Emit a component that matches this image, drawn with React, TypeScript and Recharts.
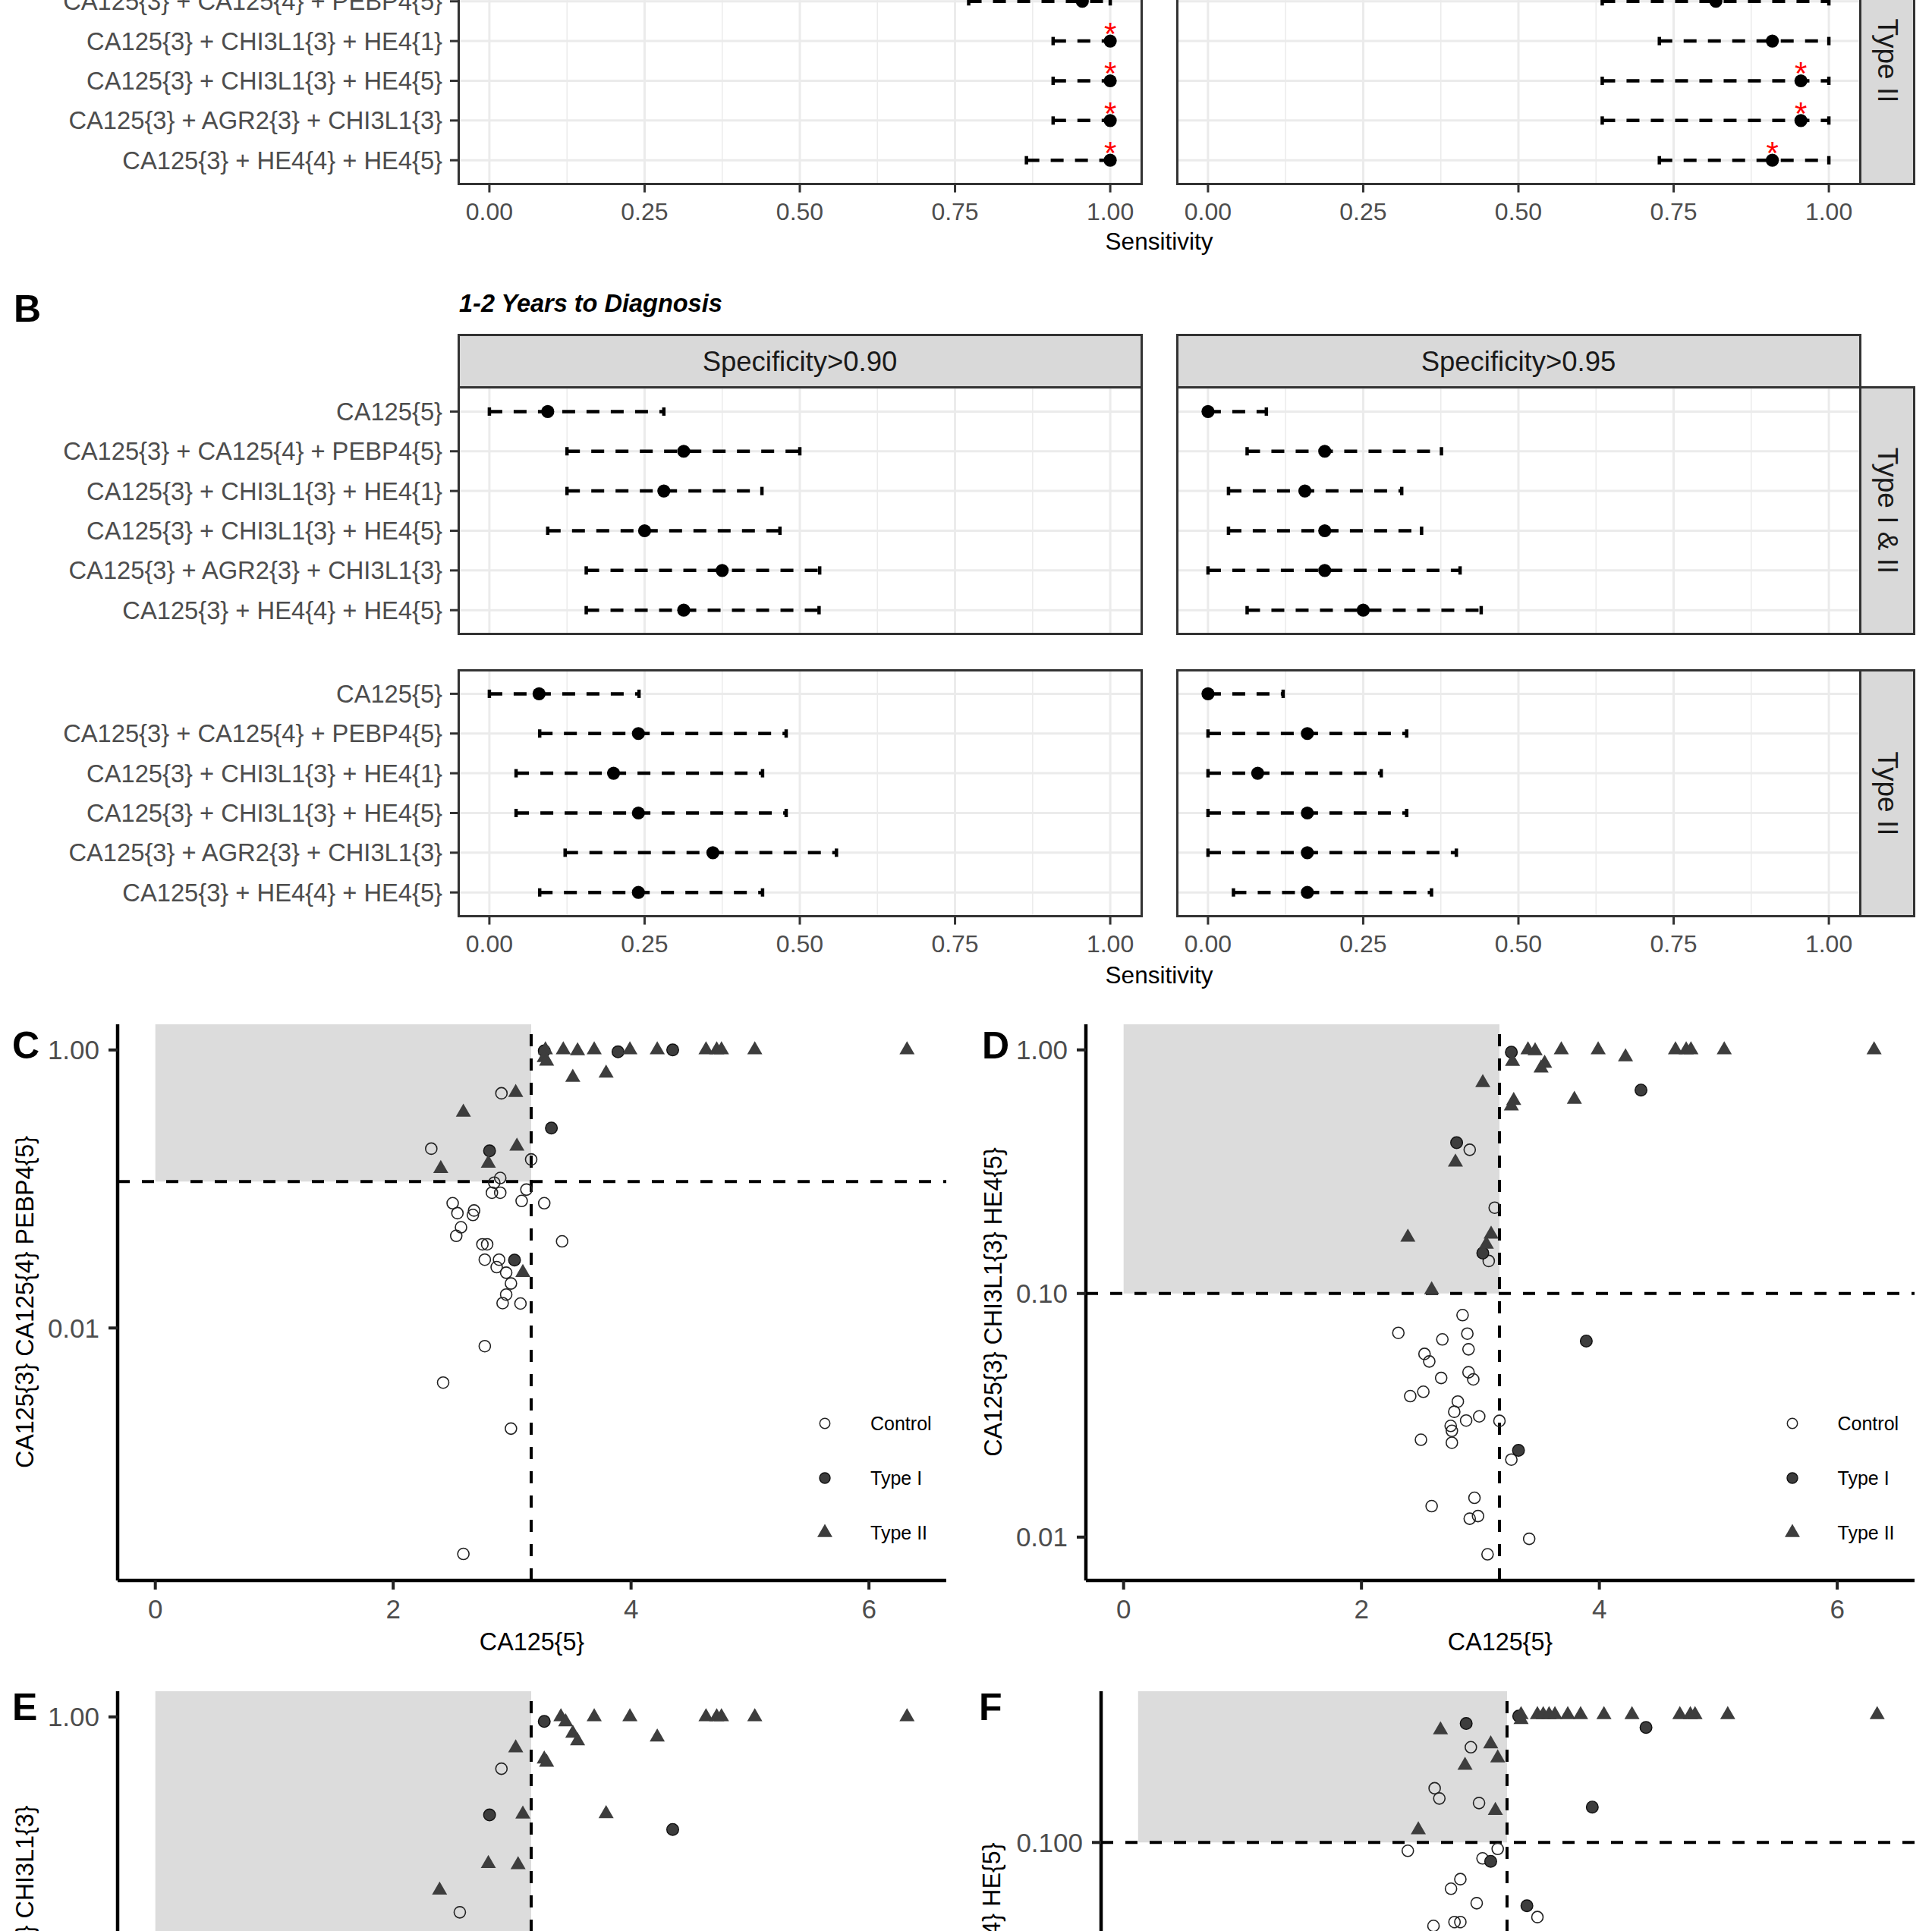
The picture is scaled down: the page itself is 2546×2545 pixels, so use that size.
import React from 'react';
import {
  ScatterChart,
  Scatter,
  XAxis,
  YAxis,
  CartesianGrid,
  ReferenceLine,
  ReferenceArea,
  ErrorBar,
} from 'recharts';

// ---------- forest plots (panels A, B) ----------
const combos = [
  'CA125{5}',
  'CA125{3} + CA125{4} + PEBP4{5}',
  'CA125{3} + CHI3L1{3} + HE4{1}',
  'CA125{3} + CHI3L1{3} + HE4{5}',
  'CA125{3} + AGR2{3} + CHI3L1{3}',
  'CA125{3} + HE4{4} + HE4{5}',
];
const sensTicks = [0, 0.25, 0.5, 0.75, 1];
const sensMinor = [0.125, 0.375, 0.625, 0.875];

// A, Type II (first row sits above the visible area)
const aT2Sp90Est = [null, 0.955, 1, 1, 1, 1];
const aT2Sp90Lo = [null, 0.772, 0.908, 0.908, 0.908, 0.865];
const aT2Sp90Hi = [null, 1, 1, 1, 1, 1];
const aT2Sp90Star = [0, 0, 1, 1, 1, 1];
const aT2Sp95Est = [null, 0.818, 0.909, 0.955, 0.955, 0.909];
const aT2Sp95Lo = [null, 0.635, 0.727, 0.635, 0.635, 0.727];
const aT2Sp95Hi = [null, 1, 1, 1, 1, 1];
const aT2Sp95Star = [0, 0, 0, 1, 1, 1];

// B, 1-2 years to diagnosis
const bAllSp90Est = [0.094, 0.313, 0.281, 0.25, 0.375, 0.313];
const bAllSp90Lo = [0, 0.125, 0.125, 0.094, 0.156, 0.156];
const bAllSp90Hi = [0.281, 0.5, 0.439, 0.468, 0.532, 0.531];
const bAllSp95Est = [0, 0.188, 0.156, 0.188, 0.188, 0.25];
const bAllSp95Lo = [0, 0.063, 0.033, 0.033, 0, 0.063];
const bAllSp95Hi = [0.094, 0.376, 0.312, 0.344, 0.406, 0.44];
const bT2Sp90Est = [0.08, 0.24, 0.2, 0.24, 0.36, 0.24];
const bT2Sp90Lo = [0, 0.081, 0.043, 0.043, 0.122, 0.081];
const bT2Sp90Hi = [0.241, 0.478, 0.44, 0.478, 0.559, 0.44];
const bT2Sp95Est = [0, 0.16, 0.08, 0.16, 0.16, 0.16];
const bT2Sp95Lo = [0, 0, 0, 0, 0, 0.041];
const bT2Sp95Hi = [0.121, 0.32, 0.279, 0.32, 0.4, 0.36];
const noStars = [0, 0, 0, 0, 0, 0];

// ---------- scatter plots (panels C-F) ----------
const X_THR = 3.16;
const caTicks = [0, 2, 4, 6];

const cControl = [
  [2.91, 0.488], [2.32, 0.195], [3.16, 0.163], [2.9, 0.12], [2.85, 0.111], [3.12, 0.099],
  [2.83, 0.094], [2.9, 0.094], [3.08, 0.082], [3.27, 0.079], [2.5, 0.079], [2.54, 0.067],
  [2.68, 0.07], [2.67, 0.065], [2.57, 0.053], [2.53, 0.046], [3.42, 0.042], [2.75, 0.04],
  [2.79, 0.04], [2.77, 0.031], [2.89, 0.031], [2.87, 0.0274], [2.95, 0.025], [2.99, 0.0209],
  [2.95, 0.0174], [2.92, 0.0151], [3.07, 0.015], [2.77, 0.0074], [2.42, 0.00405],
  [2.99, 0.00189], [2.59, 0.000237],
];
const cType1 = [[3.27, 0.985], [3.89, 0.97], [4.35, 1.0], [3.33, 0.274], [2.81, 0.188], [3.02, 0.0308]];
const cType2 = [
  [3.28, 1.0], [3.43, 1.0], [3.55, 0.985], [3.69, 1.0], [3.99, 1.0], [4.22, 1.0], [4.63, 1.0],
  [4.72, 1.0], [4.76, 1.0], [5.04, 1.0], [6.32, 1.0], [3.27, 0.88], [3.29, 0.83], [3.51, 0.634],
  [3.79, 0.68], [3.03, 0.493], [2.59, 0.356], [3.04, 0.203], [2.4, 0.14], [2.8, 0.153], [3.09, 0.025],
];

const dControl = [
  [2.91, 0.389], [3.12, 0.225], [3.07, 0.136], [2.85, 0.0815], [2.31, 0.0689], [2.89, 0.0684],
  [2.68, 0.0648], [2.9, 0.059], [2.53, 0.0565], [2.57, 0.0526], [2.9, 0.0475], [2.67, 0.045],
  [2.94, 0.0444], [2.52, 0.0395], [2.41, 0.0379], [2.81, 0.036], [2.78, 0.0327], [2.99, 0.0313],
  [3.16, 0.03], [2.88, 0.0301], [2.75, 0.0286], [2.76, 0.0273], [2.5, 0.0251], [2.76, 0.0244],
  [3.26, 0.0208], [2.95, 0.0145], [2.59, 0.0134], [2.98, 0.0122], [2.91, 0.0119], [3.41, 0.00984],
  [3.06, 0.0085],
];
const dType1 = [[3.26, 0.978], [4.35, 0.684], [2.8, 0.416], [3.02, 0.1465], [3.89, 0.0638], [3.32, 0.0227]];
const dType2 = [
  [3.4, 1.0], [3.46, 0.99], [3.68, 1.0], [3.99, 1.0], [4.22, 0.936], [4.64, 1.0], [4.73, 1.0],
  [4.77, 1.0], [5.05, 1.0], [6.31, 1.0], [3.27, 0.896], [3.54, 0.88], [3.51, 0.842], [3.02, 0.733],
  [3.28, 0.619], [3.26, 0.588], [3.79, 0.626], [2.79, 0.346], [2.39, 0.17], [3.09, 0.175],
  [3.05, 0.159], [2.59, 0.1035],
];

const eControl = [[2.91, 0.424], [2.56, 0.0393]];
const eType1 = [[3.27, 0.927], [2.81, 0.197], [4.35, 0.155]];
const eType2 = [
  [3.41, 1.0], [3.69, 1.0], [3.99, 1.0], [4.63, 1.0], [4.72, 1.0], [4.76, 1.0], [5.04, 1.0],
  [6.32, 1.0], [3.45, 0.92], [3.51, 0.762], [3.55, 0.672], [4.22, 0.716], [3.03, 0.597],
  [3.27, 0.497], [3.29, 0.471], [3.09, 0.1995], [3.79, 0.201], [2.8, 0.088], [3.05, 0.0863],
  [2.39, 0.0567],
];

const fControl = [
  [2.85, 0.262], [2.54, 0.173], [2.58, 0.156], [2.92, 0.149], [2.31, 0.0919], [3.08, 0.0937],
  [2.95, 0.0851], [2.76, 0.069], [2.68, 0.0626], [2.9, 0.0541], [3.42, 0.047], [2.53, 0.043],
  [2.71, 0.0447], [2.76, 0.0447],
];
const fType1 = [[3.26, 0.359], [2.81, 0.333], [4.35, 0.32], [3.89, 0.143], [3.02, 0.0826], [3.33, 0.0527]];
const fType2 = [
  [3.28, 0.364], [3.42, 0.364], [3.47, 0.364], [3.52, 0.364], [3.57, 0.364], [3.68, 0.364],
  [3.79, 0.364], [3.99, 0.364], [4.23, 0.364], [4.64, 0.364], [4.73, 0.364], [4.77, 0.364],
  [5.05, 0.364], [6.33, 0.364], [3.28, 0.346], [2.59, 0.312], [3.02, 0.271], [3.08, 0.235],
  [2.8, 0.218], [3.06, 0.138], [2.4, 0.1136],
];

// ---------- layout ----------
const PANEL_W = 900;
const PANEL_H = 324.6;
const LEFT_X = 604;
const RIGHT_X = 1551;
const CAT_PAD = 31.4;
const A_TOP = -82.4;
const B1_TOP = 510.6;
const B2_TOP = 883.2;
const FONT = '"Liberation Sans", Arial, Helvetica, sans-serif';

const buildRows = (est: any[], lo: any[], hi: any[], star: number[]) =>
  combos.map((label, i) => ({
    label,
    est: est[i],
    err: est[i] == null ? undefined : [est[i] - lo[i], hi[i] - est[i]],
    star: !!star[i],
  }));

const toPts = (arr: number[][]) => arr.map(([x, y]) => ({ x, y }));

const forestDot = (p: any) =>
  p.payload.est == null || p.cx == null ? <g /> : <circle cx={p.cx} cy={p.cy} r={8.6} fill="#000" />;
const forestStar = (p: any) =>
  p.payload.star && p.cx != null ? (
    <text x={p.cx} y={p.cy + 5} textAnchor="middle" fontSize={42} fill="#FF0000">
      *
    </text>
  ) : (
    <g />
  );

function Facet({ rows, x, y, showY, showX }: any) {
  const yw = showY ? x : 0;
  const xh = showX ? 60 : 0;
  const w = yw + PANEL_W;
  const h = PANEL_H + xh;
  return (
    <>
      <div style={{ position: 'absolute', left: x - yw, top: y, width: w, height: h }}>
        <ScatterChart width={w} height={h} margin={{ top: 0, right: 0, bottom: 0, left: 0 }}>
          <CartesianGrid stroke="#EBEBEB" strokeWidth={3} />
          {sensMinor.map((v) => (
            <ReferenceLine key={v} x={v} stroke="#EBEBEB" strokeWidth={1.5} zIndex={-90} />
          ))}
          <XAxis
            type="number"
            dataKey="est"
            domain={[-0.05, 1.05]}
            allowDataOverflow
            ticks={sensTicks}
            hide={!showX}
            height={xh}
            tickFormatter={(v: number) => v.toFixed(2)}
            tick={{ fill: '#4D4D4D', fontSize: 32 }}
            tickLine={{ stroke: '#333333', strokeWidth: 3 }}
            tickSize={11}
            tickMargin={14}
            axisLine={false}
          />
          <YAxis
            type="category"
            dataKey="label"
            scale="point"
            reversed
            allowDuplicatedCategory={false}
            padding={{ top: CAT_PAD, bottom: CAT_PAD }}
            hide={!showY}
            width={yw}
            tick={{ fill: '#4D4D4D', fontSize: 32.7 }}
            tickLine={{ stroke: '#333333', strokeWidth: 3 }}
            tickSize={11}
            tickMargin={10}
            axisLine={false}
            interval={0}
          />
          <Scatter data={rows} shape={forestDot} isAnimationActive={false}>
            <ErrorBar
              dataKey="err"
              direction="x"
              width={5.5}
              stroke="#000"
              strokeWidth={4.5}
              strokeDasharray="17 15"
              isAnimationActive={false}
            />
          </Scatter>
          <Scatter data={rows} shape={forestStar} isAnimationActive={false} />
        </ScatterChart>
      </div>
      <div
        style={{
          position: 'absolute',
          left: x - 1.5,
          top: y - 1.5,
          width: PANEL_W + 3,
          height: PANEL_H + 3,
          border: '3px solid #333333',
          boxSizing: 'border-box',
        }}
      />
    </>
  );
}

function Label({ x, y, size, text, align = 'center', rotate = 0, color = '#000', weight = 400, italic = false }: any) {
  const tx = align === 'center' ? '-50%' : align === 'right' ? '-100%' : '0%';
  return (
    <div
      style={{
        position: 'absolute',
        left: x,
        top: y,
        transform: `translate(${tx}, -50%) rotate(${rotate}deg)`,
        fontSize: size,
        lineHeight: 1,
        whiteSpace: 'nowrap',
        color,
        fontWeight: weight,
        fontStyle: italic ? 'italic' : 'normal',
      }}
    >
      {text}
    </div>
  );
}

function ColStrip({ x, text }: any) {
  return (
    <>
      <div
        style={{
          position: 'absolute',
          left: x - 1.5,
          top: 440,
          width: PANEL_W + 3,
          height: B1_TOP - 440 + 1.5,
          background: '#D9D9D9',
          border: '3px solid #333333',
          boxSizing: 'border-box',
        }}
      />
      <Label x={x + PANEL_W / 2} y={477} size={36.5} text={text} color="#1A1A1A" />
    </>
  );
}

function RowStrip({ y, text }: any) {
  return (
    <>
      <div
        style={{
          position: 'absolute',
          left: RIGHT_X + PANEL_W - 1.5,
          top: y - 1.5,
          width: 74,
          height: PANEL_H + 3,
          background: '#D9D9D9',
          border: '3px solid #333333',
          boxSizing: 'border-box',
        }}
      />
      <Label x={2487} y={y + PANEL_H / 2} size={37} text={text} color="#1A1A1A" rotate={90} />
    </>
  );
}

const triPath = (cx: number, cy: number, r: number) =>
  `M${cx},${cy - r}L${cx + r * 0.866},${cy + r / 2}L${cx - r * 0.866},${cy + r / 2}Z`;

const openCircle = (p: any) => <circle cx={p.cx} cy={p.cy} r={7.5} fill="none" stroke="#222" strokeWidth={1.6} />;
const fillCircle = (p: any) => <circle cx={p.cx} cy={p.cy} r={7.8} fill="#3D3D3D" stroke="#111" strokeWidth={1.4} />;
const triangle = (p: any) => <path d={triPath(p.cx, p.cy, 11.5)} fill="#3D3D3D" />;

function ScatterPanel({ x, y, w, yDomain, yTicks, yDigits, yThr, control, type1, type2 }: any) {
  const YW = 150;
  const MT = 20;
  const MR = 30;
  const XH = 70;
  const H = 733;
  const cw = YW + w + MR;
  const ch = MT + H + XH;
  return (
    <div style={{ position: 'absolute', left: x - YW, top: y - MT, width: cw, height: ch }}>
      <ScatterChart width={cw} height={ch} margin={{ top: MT, right: MR, bottom: 0, left: 0 }}>
        <ReferenceArea
          x1={0}
          x2={X_THR}
          y1={yThr}
          y2={yDomain[1]}
          fill="#DCDCDC"
          fillOpacity={1}
          stroke="none"
          zIndex={-50}
        />
        <XAxis
          type="number"
          dataKey="x"
          domain={[-0.317, 6.65]}
          allowDataOverflow
          ticks={caTicks}
          height={XH}
          tick={{ fill: '#4D4D4D', fontSize: 35 }}
          tickLine={{ stroke: '#222', strokeWidth: 4 }}
          tickSize={12}
          tickMargin={13}
          axisLine={{ stroke: '#000', strokeWidth: 4.5 }}
        />
        <YAxis
          type="number"
          dataKey="y"
          scale="log"
          domain={yDomain}
          allowDataOverflow
          ticks={yTicks}
          tickFormatter={(v: number) => v.toFixed(yDigits)}
          width={YW}
          tick={{ fill: '#4D4D4D', fontSize: 35 }}
          tickLine={{ stroke: '#222', strokeWidth: 4 }}
          tickSize={12}
          tickMargin={12}
          axisLine={{ stroke: '#000', strokeWidth: 4.5 }}
        />
        <ReferenceLine x={X_THR} stroke="#000" strokeWidth={4} strokeDasharray="16 16" />
        <ReferenceLine y={yThr} stroke="#000" strokeWidth={4} strokeDasharray="16 16" />
        <Scatter data={toPts(control)} shape={openCircle} isAnimationActive={false} />
        <Scatter data={toPts(type1)} shape={fillCircle} isAnimationActive={false} />
        <Scatter data={toPts(type2)} shape={triangle} isAnimationActive={false} />
      </ScatterChart>
    </div>
  );
}

function GroupLegend({ x, textX }: any) {
  const ys = [1876, 1948, 2020];
  return (
    <>
      <svg style={{ position: 'absolute', left: x - 15, top: 1850, overflow: 'visible' }} width={30} height={200}>
        <circle cx={15} cy={ys[0] - 1850} r={6.7} fill="none" stroke="#222" strokeWidth={1.5} />
        <circle cx={15} cy={ys[1] - 1850} r={7} fill="#3D3D3D" stroke="#111" strokeWidth={1.4} />
        <path d={triPath(15, ys[2] - 1850, 11.5)} fill="#3D3D3D" />
      </svg>
      <Label x={textX} y={ys[0]} size={25} text="Control" align="left" />
      <Label x={textX} y={ys[1]} size={25} text="Type I" align="left" />
      <Label x={textX} y={ys[2]} size={25} text="Type II" align="left" />
    </>
  );
}

export default function App() {
  const logCE = [Math.pow(10, -3.816), Math.pow(10, 0.1845)];
  const logD = [Math.pow(10, -2.178), Math.pow(10, 0.105)];
  const logF = [Math.pow(10, -2.779), Math.pow(10, -0.3357)];
  return (
    <div
      style={{
        position: 'absolute',
        left: 0,
        top: 0,
        width: 2546,
        height: 2545,
        overflow: 'hidden',
        background: '#fff',
        fontFamily: FONT,
      }}
    >
      {/* panel A (bottom row only) */}
      <Facet rows={buildRows(aT2Sp90Est, aT2Sp90Lo, aT2Sp90Hi, aT2Sp90Star)} x={LEFT_X} y={A_TOP} showY showX />
      <Facet rows={buildRows(aT2Sp95Est, aT2Sp95Lo, aT2Sp95Hi, aT2Sp95Star)} x={RIGHT_X} y={A_TOP} showX />
      <RowStrip y={A_TOP} text="Type II" />
      <Label x={1527.5} y={319} size={31.5} text="Sensitivity" />

      {/* panel B */}
      <Label x={18} y={407} size={50} weight={700} text="B" align="left" />
      <Label x={605} y={400} size={32.5} weight={700} italic text="1-2 Years to Diagnosis" align="left" />
      <ColStrip x={LEFT_X} text="Specificity>0.90" />
      <ColStrip x={RIGHT_X} text="Specificity>0.95" />
      <Facet rows={buildRows(bAllSp90Est, bAllSp90Lo, bAllSp90Hi, noStars)} x={LEFT_X} y={B1_TOP} showY />
      <Facet rows={buildRows(bAllSp95Est, bAllSp95Lo, bAllSp95Hi, noStars)} x={RIGHT_X} y={B1_TOP} />
      <RowStrip y={B1_TOP} text="Type I & II" />
      <Facet rows={buildRows(bT2Sp90Est, bT2Sp90Lo, bT2Sp90Hi, noStars)} x={LEFT_X} y={B2_TOP} showY showX />
      <Facet rows={buildRows(bT2Sp95Est, bT2Sp95Lo, bT2Sp95Hi, noStars)} x={RIGHT_X} y={B2_TOP} showX />
      <RowStrip y={B2_TOP} text="Type II" />
      <Label x={1527.5} y={1286} size={31.5} text="Sensitivity" />

      {/* panel C */}
      <ScatterPanel x={155} y={1350} w={1092} yDomain={logCE} yTicks={[0.01, 1]} yDigits={2} yThr={0.113}
        control={cControl} type1={cType1} type2={cType2} />
      <Label x={16} y={1378} size={50} weight={700} text="C" align="left" />
      <Label x={32.6} y={1716} size={32.3} text="CA125{3} CA125{4} PEBP4{5}" rotate={-90} />
      <Label x={701} y={2164} size={32.3} text="CA125{5}" />
      <GroupLegend x={1086.7} textX={1147} />

      {/* panel D */}
      <ScatterPanel x={1431} y={1350} w={1092} yDomain={logD} yTicks={[0.01, 0.1, 1]} yDigits={2} yThr={0.1}
        control={dControl} type1={dType1} type2={dType2} />
      <Label x={1294} y={1378} size={50} weight={700} text="D" align="left" />
      <Label x={1309} y={1716} size={32.3} text="CA125{3} CHI3L1{3} HE4{5}" rotate={-90} />
      <Label x={1977} y={2164} size={32.3} text="CA125{5}" />
      <GroupLegend x={2362} textX={2421.5} />

      {/* panel E */}
      <ScatterPanel x={155} y={2229} w={1092} yDomain={logCE} yTicks={[0.01, 1]} yDigits={2} yThr={0.01}
        control={eControl} type1={eType1} type2={eType2} />
      <Label x={16} y={2250} size={50} weight={700} text="E" align="left" />
      <Label x={32.6} y={2595} size={32.3} text="CA125{3} AGR2{3} CHI3L1{3}" rotate={-90} />

      {/* panel F */}
      <ScatterPanel x={1451} y={2229} w={1072} yDomain={logF} yTicks={[0.01, 0.1]} yDigits={3} yThr={0.1}
        control={fControl} type1={fType1} type2={fType2} />
      <Label x={1290} y={2250} size={50} weight={700} text="F" align="left" />
      <Label x={1306.6} y={2600} size={32.3} text="CA125{3} HE4{4} HE{5}" rotate={-90} />
    </div>
  );
}
